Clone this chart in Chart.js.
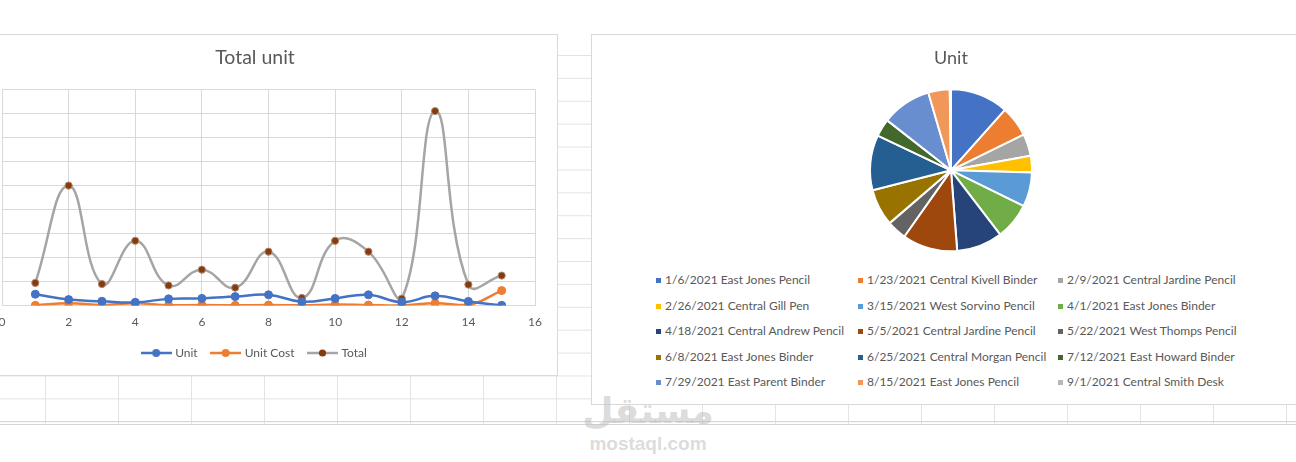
<!DOCTYPE html>
<html>
<head>
<meta charset="utf-8">
<title>Total unit / Unit</title>
<script src="https://cdn.jsdelivr.net/npm/chart.js@4.4.1/dist/chart.umd.min.js"></script>
<style>
  body{margin:0;width:1296px;height:462px;overflow:hidden;background:#fff;position:relative;font-family:Lato,"Open Sans",sans-serif;}
  /* spreadsheet cells behind the charts */
  #sheet{position:absolute;left:0;top:55px;width:1296px;height:369px;
    background-image:linear-gradient(#e3e3e3 1px,transparent 1px),linear-gradient(90deg,#e3e3e3 1px,transparent 1px);
    background-size:100% 22.9px,73px 100%;background-position:0 0,45px 0;}
  #sheetEnd{position:absolute;left:0;top:421px;width:1296px;height:2px;border-top:1px solid #d6d6d6;border-bottom:1px solid #d6d6d6;}
  .box{position:absolute;background:#fff;border:1px solid #d9d9d9;}
  canvas{position:absolute;}
  .lg{position:absolute;font-size:12px;line-height:14px;color:#595959;white-space:nowrap;}
  .lg i{display:inline-block;width:5px;height:5px;margin-right:4px;vertical-align:1px;}
  .wm{position:absolute;width:200px;text-align:center;color:rgba(190,190,190,.55);font-weight:bold;font-family:"DejaVu Sans","Liberation Sans",sans-serif;}
</style>
</head>
<body>
<div id="sheet"></div>
<div id="sheetEnd"></div>
<div class="box" style="left:-10px;top:34px;width:566px;height:340px;"></div>
<div class="box" style="left:591px;top:34px;width:720px;height:369px;"></div>
<canvas id="lineChart" width="582" height="341" style="left:-25px;top:34px;"></canvas>
<canvas id="pieChart" width="720" height="228" style="left:591px;top:34px;"></canvas>
<div class="wm" style="left:548px;top:390px;font-size:36px;">مستقل</div>
<div class="wm" style="left:548px;top:433px;font-size:19px;font-family:'Liberation Sans',sans-serif;">mostaql.com</div>

<script>
// order rows 1..15 (x axis of the scatter)
const orderNo = [1, 2, 3, 4, 5, 6, 7, 8, 9, 10, 11, 12, 13, 14, 15];
const units = [95, 50, 36, 27, 56, 60, 75, 90, 32, 60, 90, 29, 81, 35, 2];
const unitCost = [1.99, 19.99, 4.99, 19.99, 2.99, 4.99, 1.99, 4.99, 1.99, 8.99, 4.99, 1.99, 19.99, 4.99, 125];
const totals = [189.05, 999.5, 179.64, 539.73, 167.44, 299.4, 149.25, 449.1, 63.68, 539.4, 449.1, 57.71, 1619.19, 174.65, 250];

const pieLabels = [
  "1/6/2021 East Jones Pencil", "1/23/2021 Central Kivell Binder", "2/9/2021 Central Jardine Pencil",
  "2/26/2021 Central Gill Pen", "3/15/2021 West Sorvino Pencil", "4/1/2021 East Jones Binder",
  "4/18/2021 Central Andrew Pencil", "5/5/2021 Central Jardine Pencil", "5/22/2021 West Thomps Pencil",
  "6/8/2021 East Jones Binder", "6/25/2021 Central Morgan Pencil", "7/12/2021 East Howard Binder",
  "7/29/2021 East Parent Binder", "8/15/2021 East Jones Pencil", "9/1/2021 Central Smith Desk"
];
const pieColors = ['#4472C4','#ED7D31','#A5A5A5','#FFC000','#5B9BD5','#70AD47','#264478','#9E480E',
  '#636363','#997300','#255E91','#43682B','#698ED0','#F1975A','#B7B7B7'];

const FONT = 'Lato';
const GREY_TEXT = '#595959';
const GRID = '#d9d9d9';

function xy(ys) {
  return orderNo.map((x, i) => ({x: x, y: ys[i]}));
}

// little "line with a dot" marker like the excel legend
function legendMarker(lineColor, dotColor, r) {
  const c = document.createElement('canvas');
  c.width = 31; c.height = 10;
  const ctx = c.getContext('2d');
  ctx.strokeStyle = lineColor; ctx.lineWidth = 2.5;
  ctx.beginPath(); ctx.moveTo(0, 5); ctx.lineTo(31, 5); ctx.stroke();
  ctx.fillStyle = dotColor;
  ctx.beginPath(); ctx.arc(15.5, 5, r, 0, Math.PI * 2); ctx.fill();
  return c;
}

const series = [
  {label: 'Unit', data: xy(units), line: '#4472C4', dot: '#4472C4', edge: '#4472C4', r: 4},
  {label: 'Unit Cost', data: xy(unitCost), line: '#ED7D31', dot: '#ED7D31', edge: '#ED7D31', r: 4},
  {label: 'Total', data: xy(totals), line: '#A5A5A5', dot: '#843C0C', edge: '#b08a74', r: 3.6}
];

new Chart('lineChart', {
  type: 'line',
  data: {
    datasets: series.map(s => ({
      label: s.label,
      data: s.data,
      borderColor: s.line,
      backgroundColor: s.dot,
      borderWidth: 2.5,
      tension: 0.45,
      pointRadius: s.r,
      pointBackgroundColor: s.dot,
      pointBorderColor: s.edge,
      pointBorderWidth: 1,
      fill: false
    }))
  },
  options: {
    responsive: false,
    animation: false,
    layout: {padding: {right: 22, bottom: 6}},
    scales: {
      x: {
        type: 'linear', min: 0, max: 16,
        ticks: {stepSize: 2, color: GREY_TEXT, padding: 9, font: {family: FONT, size: 12}},
        grid: {color: GRID, drawTicks: false},
        border: {color: GRID},
        afterFit: function(scale) { scale.height = scale.height - 6; }
      },
      y: {
        min: 0, max: 1800,
        ticks: {stepSize: 200, display: false},
        grid: {color: GRID, drawTicks: false},
        border: {color: GRID},
        afterFit: function(scale) { scale.width = 27; }
      }
    },
    plugins: {
      title: {
        display: true, text: 'Total unit', color: GREY_TEXT,
        font: {family: FONT, size: 19.5, weight: 'normal'},
        padding: {top: 12, bottom: 20}
      },
      legend: {
        position: 'bottom',
        labels: {
          color: GREY_TEXT, font: {family: FONT, size: 12},
          usePointStyle: true, pointStyleWidth: 26, padding: 15,
          generateLabels: function(chart) {
            const items = Chart.defaults.plugins.legend.labels.generateLabels(chart);
            items.forEach((it, i) => { it.pointStyle = legendMarker(series[i].line, series[i].dot, series[i].r); });
            return items;
          }
        }
      },
      tooltip: {enabled: false}
    }
  }
});

new Chart('pieChart', {
  type: 'pie',
  data: {
    labels: pieLabels,
    datasets: [{data: units, backgroundColor: pieColors, borderColor: '#fff', borderWidth: 2}]
  },
  options: {
    responsive: false,
    animation: false,
    radius: 81,
    plugins: {
      title: {
        display: true, text: 'Unit', color: GREY_TEXT,
        font: {family: FONT, size: 18, weight: 'normal'},
        padding: {top: 13, bottom: 10}
      },
      legend: {display: false},
      tooltip: {enabled: false}
    }
  }
});

// pie legend in three columns, excel style
const legendCols = [656, 858, 1058];
const legendTop = 273;
const legendRowGap = 25.5;
pieLabels.forEach((lab, i) => {
  const el = document.createElement('div');
  el.className = 'lg';
  el.style.left = legendCols[i % 3] + 'px';
  el.style.top = (legendTop + Math.floor(i / 3) * legendRowGap) + 'px';
  el.innerHTML = '<i style="background:' + pieColors[i] + '"></i>' + lab;
  document.body.appendChild(el);
});
</script>
</body>
</html>
